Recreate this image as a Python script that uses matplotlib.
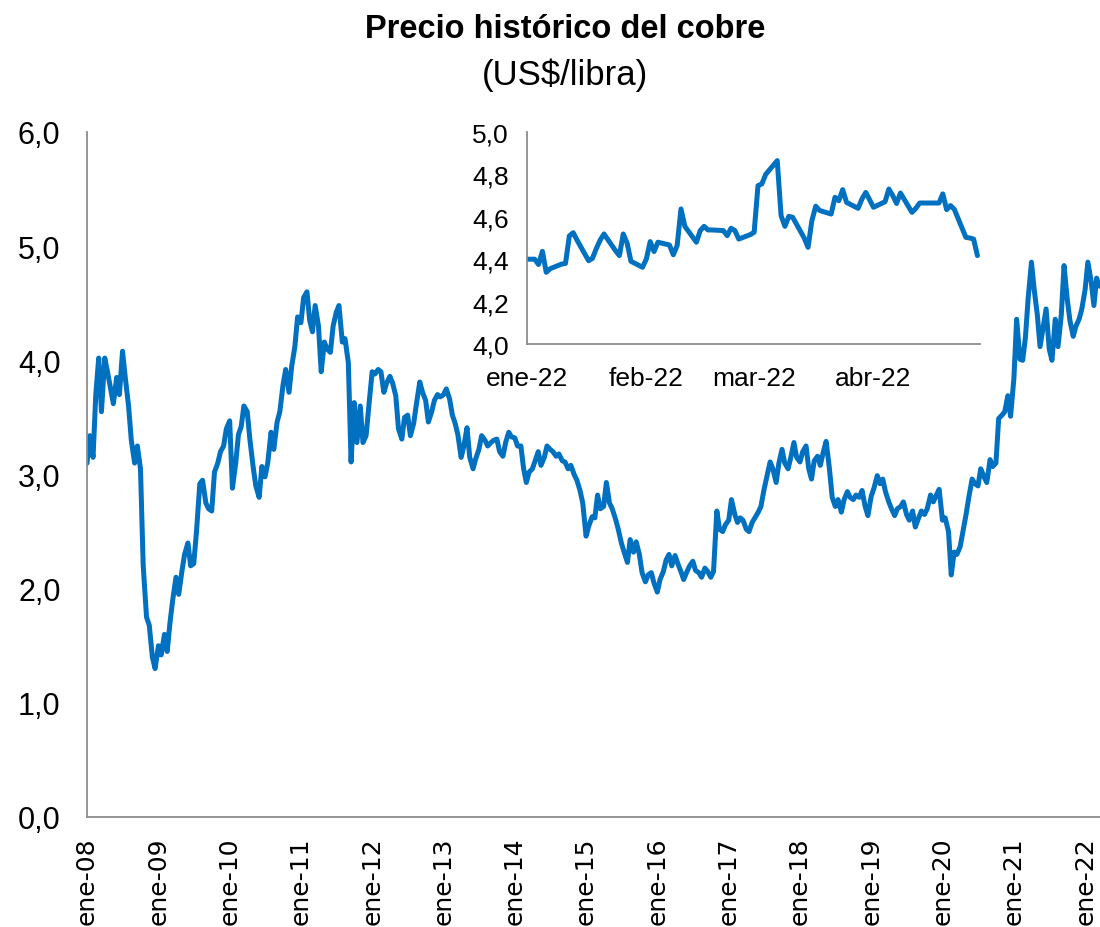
import matplotlib
matplotlib.use("Agg")
import matplotlib.pyplot as plt
import matplotlib.dates as mdates
import pandas as pd

# ---------------- data (US$/lb), semi-monthly readings ----------------
p2008 = [3.10, 3.34, 3.15, 3.70, 4.02, 3.55, 4.02, 3.90, 3.75, 3.62, 3.85, 3.70,
         4.08, 3.85, 3.60, 3.30, 3.10, 3.25, 3.05, 2.20, 1.75, 1.68, 1.40, 1.30]
p2009 = [1.50, 1.42, 1.60, 1.45, 1.70, 1.90, 2.10, 1.95, 2.15, 2.30, 2.40, 2.20,
         2.22, 2.50, 2.92, 2.95, 2.75, 2.70, 2.68, 3.02, 3.10, 3.20, 3.25, 3.40]
p2010 = [3.47, 2.88, 3.10, 3.35, 3.42, 3.60, 3.55, 3.30, 3.07, 2.90, 2.80, 3.07,
         2.98, 3.10, 3.37, 3.22, 3.46, 3.55, 3.78, 3.92, 3.72, 3.95, 4.12, 4.38]
p2011 = [4.33, 4.55, 4.60, 4.35, 4.25, 4.48, 4.30, 3.90, 4.16, 4.10, 4.07, 4.30,
         4.42, 4.48, 4.16, 4.19, 3.98, 3.11, 3.63, 3.28, 3.60, 3.28, 3.34, 3.60]
p2012 = [3.90, 3.88, 3.92, 3.90, 3.72, 3.80, 3.86, 3.80, 3.69, 3.40, 3.31, 3.50,
         3.52, 3.34, 3.45, 3.62, 3.81, 3.72, 3.65, 3.46, 3.55, 3.65, 3.70, 3.68]
p2013 = [3.70, 3.75, 3.66, 3.52, 3.45, 3.35, 3.15, 3.25, 3.41, 3.15, 3.05, 3.14,
         3.22, 3.34, 3.30, 3.25, 3.28, 3.30, 3.31, 3.20, 3.16, 3.28, 3.37, 3.33]
p2014 = [3.32, 3.25, 3.25, 3.05, 2.93, 3.02, 3.05, 3.12, 3.20, 3.08, 3.15, 3.25,
         3.22, 3.20, 3.16, 3.18, 3.12, 3.11, 3.05, 3.08, 3.00, 2.95, 2.86, 2.75]
p2015 = [2.46, 2.55, 2.63, 2.62, 2.82, 2.70, 2.72, 2.93, 2.75, 2.70, 2.61, 2.52,
         2.40, 2.32, 2.23, 2.43, 2.32, 2.41, 2.30, 2.14, 2.06, 2.12, 2.14, 2.05]
p2016 = [1.97, 2.08, 2.15, 2.25, 2.30, 2.20, 2.29, 2.22, 2.15, 2.08, 2.15, 2.20,
         2.24, 2.16, 2.14, 2.10, 2.18, 2.15, 2.10, 2.15, 2.68, 2.52, 2.50, 2.56]
p2017 = [2.60, 2.78, 2.65, 2.58, 2.62, 2.60, 2.52, 2.50, 2.58, 2.62, 2.67, 2.72,
         2.87, 2.98, 3.11, 3.05, 2.93, 3.10, 3.22, 3.10, 3.05, 3.15, 3.28, 3.15]
p2018 = [3.11, 3.20, 3.25, 3.05, 2.96, 3.12, 3.16, 3.08, 3.20, 3.29, 3.05, 2.80,
         2.72, 2.78, 2.67, 2.78, 2.85, 2.80, 2.78, 2.82, 2.80, 2.86, 2.72, 2.64]
p2019 = [2.81, 2.88, 2.99, 2.92, 2.96, 2.85, 2.76, 2.70, 2.64, 2.70, 2.72, 2.76,
         2.65, 2.60, 2.68, 2.54, 2.62, 2.68, 2.65, 2.70, 2.82, 2.76, 2.82, 2.87]
p2020 = [2.60, 2.62, 2.50, 2.12, 2.32, 2.30, 2.37, 2.50, 2.65, 2.80, 2.96, 2.92,
         2.90, 3.05, 2.98, 2.93, 3.13, 3.07, 3.10, 3.49, 3.52, 3.55, 3.69, 3.51]
p2021 = [3.84, 4.36, 4.01, 4.00, 4.20, 4.54, 4.86, 4.62, 4.40, 4.12, 4.30, 4.45,
         4.10, 4.00, 4.36, 4.12, 4.40, 4.83, 4.54, 4.35, 4.21, 4.30, 4.36, 4.45]
p2022 = [4.62, 4.86, 4.69, 4.48, 4.72, 4.65]

main_values = (p2008 + p2009 + p2010 + p2011 + p2012 + p2013 + p2014 + p2015 +
               p2016 + p2017 + p2018 + p2019 + p2020 + p2021 + p2022)
main_dates = pd.date_range("2008-01-01", periods=len(main_values), freq="SMS")
main_tick_years = list(range(2008, 2023))
main_tick_labels = ["ene-%02d" % (y % 100) for y in main_tick_years]

# inset: daily 2022
inset_dates = [
    "2021-12-31", "2022-01-03", "2022-01-04", "2022-01-05", "2022-01-06", "2022-01-07",
    "2022-01-10", "2022-01-11", "2022-01-12", "2022-01-13", "2022-01-14", "2022-01-17",
    "2022-01-18", "2022-01-19", "2022-01-20", "2022-01-21", "2022-01-24", "2022-01-25",
    "2022-01-26", "2022-01-27", "2022-01-28", "2022-01-31", "2022-02-01", "2022-02-02",
    "2022-02-03", "2022-02-04", "2022-02-07", "2022-02-08", "2022-02-09", "2022-02-10",
    "2022-02-11", "2022-02-14", "2022-02-15", "2022-02-16", "2022-02-17", "2022-02-18",
    "2022-02-21", "2022-02-22", "2022-02-23", "2022-02-24", "2022-02-25", "2022-02-28",
    "2022-03-01", "2022-03-02", "2022-03-03", "2022-03-04", "2022-03-07", "2022-03-08",
    "2022-03-09", "2022-03-10", "2022-03-11", "2022-03-14", "2022-03-15", "2022-03-16",
    "2022-03-17", "2022-03-18", "2022-03-21", "2022-03-22", "2022-03-23", "2022-03-24",
    "2022-03-25", "2022-03-28", "2022-03-29", "2022-03-30", "2022-03-31", "2022-04-01",
    "2022-04-04", "2022-04-05", "2022-04-06", "2022-04-07", "2022-04-08", "2022-04-11",
    "2022-04-12", "2022-04-13", "2022-04-14", "2022-04-18", "2022-04-19", "2022-04-20",
    "2022-04-21", "2022-04-22", "2022-04-25", "2022-04-26", "2022-04-27", "2022-04-28",
]
inset_values = [
    4.40, 4.40, 4.375, 4.437, 4.338, 4.355,
    4.377, 4.38, 4.51, 4.525, 4.49, 4.393,
    4.404, 4.45, 4.49, 4.519, 4.44, 4.417,
    4.519, 4.476, 4.39, 4.362, 4.401, 4.483,
    4.436, 4.48, 4.467, 4.421, 4.464, 4.637,
    4.555, 4.48, 4.535, 4.555, 4.538, 4.538,
    4.535, 4.511, 4.546, 4.535, 4.495, 4.516,
    4.527, 4.747, 4.755, 4.80, 4.865, 4.605,
    4.555, 4.602, 4.598, 4.50, 4.456, 4.582,
    4.65, 4.63, 4.613, 4.692, 4.676, 4.728,
    4.668, 4.64, 4.684, 4.715, 4.68, 4.645,
    4.671, 4.731, 4.70, 4.663, 4.712, 4.621,
    4.64, 4.665, 4.665, 4.665, 4.708, 4.634,
    4.653, 4.635, 4.503, 4.50, 4.495, 4.417,
]
inset_tick_dates = ["2022-01-01", "2022-02-01", "2022-03-01", "2022-04-01"]
inset_tick_labels = ["ene-22", "feb-22", "mar-22", "abr-22"]

# ---------------- figure ----------------
W, H = 1100, 928
fig = plt.figure(figsize=(W / 100, H / 100), dpi=100)
fig.patch.set_facecolor("white")

LINE = "#0070C0"
SPINE = "#8C8C8C"
SANS = ["Liberation Sans", "DejaVu Sans"]

def fx(px):
    return px / W

def fy(py):
    return 1 - py / H

# main axes
ax = fig.add_axes([fx(87), fy(818), fx(1100) - fx(87), fy(133) - fy(818)])
ax.patch.set_alpha(0)
ax.plot(pd.to_datetime(main_dates), main_values, color=LINE, lw=3.6,
        solid_joinstyle="round", solid_capstyle="round")
ax.set_ylim(0, 6)
ax.set_yticks([0, 1, 2, 3, 4, 5, 6])
ax.set_yticklabels([("%.1f" % v).replace(".", ",") for v in range(7)],
                   fontsize=22, family=SANS)
x0 = pd.Timestamp("2008-01-01")
x1 = x0 + pd.Timedelta(days=365.25 * 14.21)
ax.set_xlim(x0, x1)
ax.set_xticks([pd.Timestamp("%d-01-01" % y) for y in main_tick_years])
ax.set_xticklabels(main_tick_labels, rotation=90, fontsize=18,
                   family=["DejaVu Sans"], va="top", ha="center")
ax.tick_params(axis="both", length=0)
ax.tick_params(axis="y", pad=19)
ax.tick_params(axis="x", pad=14)
for s in ["top", "right"]:
    ax.spines[s].set_visible(False)
for s in ["left", "bottom"]:
    ax.spines[s].set_color(SPINE)
    ax.spines[s].set_linewidth(1.3)

# inset axes
axi = fig.add_axes([fx(527), fy(345), fx(980) - fx(527), fy(133) - fy(345)])
axi.patch.set_alpha(0)
axi.plot(pd.to_datetime(inset_dates), inset_values, color=LINE, lw=3.6,
         solid_joinstyle="round", solid_capstyle="round")
axi.set_ylim(4.0, 5.0)
yt = [4.0, 4.2, 4.4, 4.6, 4.8, 5.0]
axi.set_yticks(yt)
axi.set_yticklabels([("%.1f" % v).replace(".", ",") for v in yt],
                    fontsize=19, family=SANS)
axi.set_xlim(pd.Timestamp("2022-01-01"), pd.Timestamp("2022-04-28 16:00"))
axi.set_xticks(pd.to_datetime(inset_tick_dates))
axi.set_xticklabels(inset_tick_labels, fontsize=19, family=SANS)
axi.tick_params(axis="both", length=0)
axi.tick_params(axis="y", pad=13)
axi.tick_params(axis="x", pad=16)
for s in ["top", "right"]:
    axi.spines[s].set_visible(False)
for s in ["left", "bottom"]:
    axi.spines[s].set_color(SPINE)
    axi.spines[s].set_linewidth(1.3)

# titles
fig.text(fx(565), fy(29), "Precio histórico del cobre", fontsize=23.5,
         fontweight="bold", family=SANS, ha="center", va="center")
fig.text(fx(565), fy(75), "(US$/libra)", fontsize=25, family=SANS,
         ha="center", va="center")

fig.savefig("out.png", dpi=100)
